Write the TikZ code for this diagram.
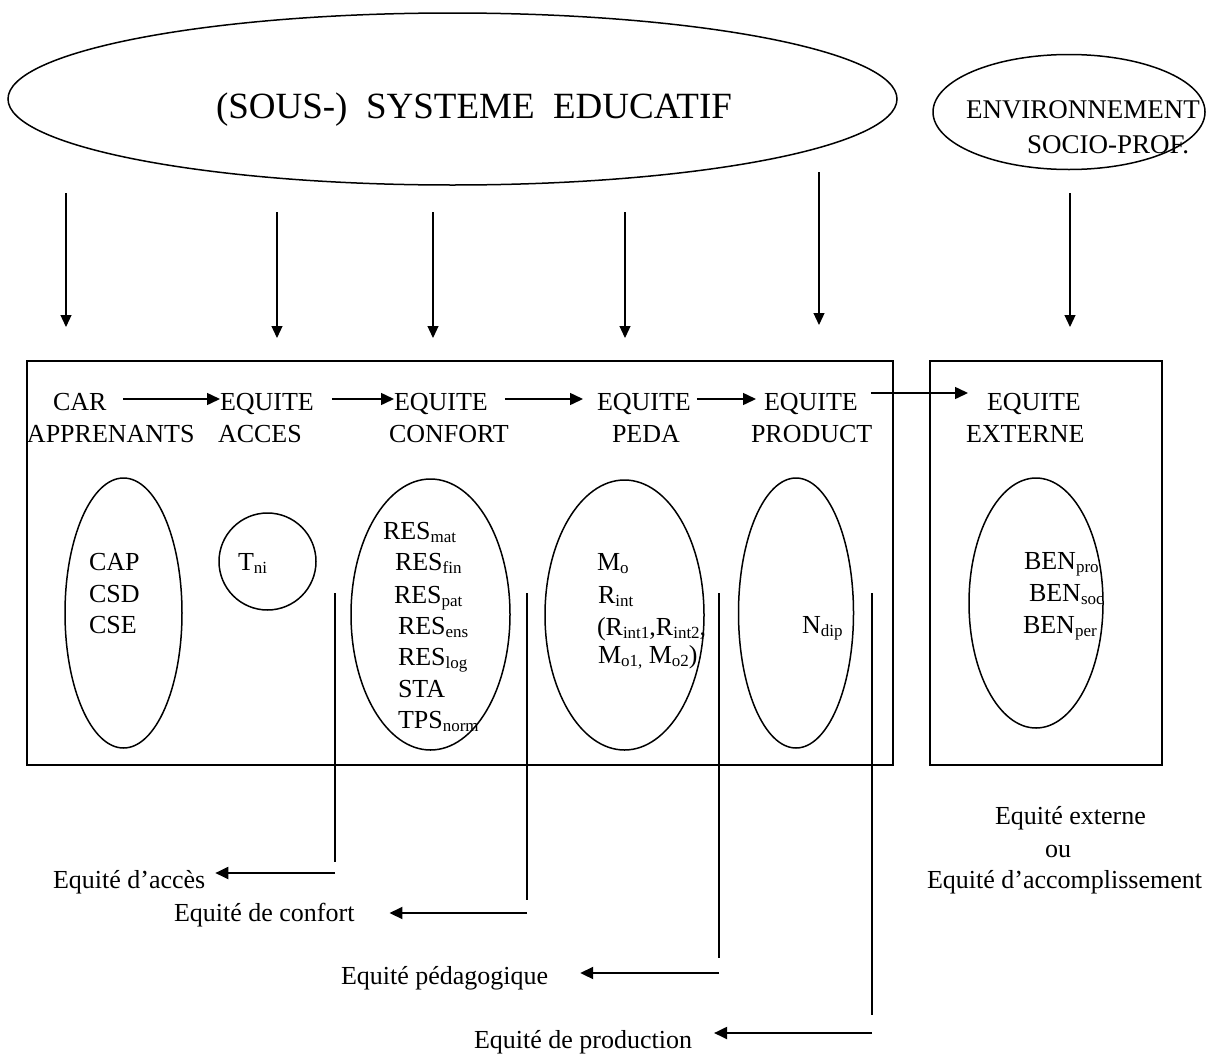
\documentclass[tikz,border=0pt]{standalone}
\usepackage{fontspec}
\setmainfont{Liberation Serif}
\usetikzlibrary{arrows.meta,shapes.geometric}
\newcommand\sbs[1]{\raisebox{-3pt}{\fontsize{17}{17}\selectfont #1}}
\tikzset{
  txt/.style={inner sep=0pt, outer sep=0pt, anchor=base west, font=\fontsize{26}{31}\selectfont},
  rowtxt/.style={txt, text height=22pt, text depth=0pt},
  ell/.style={draw, ellipse, line width=1.5pt, inner sep=0pt, outer sep=0pt},
  frame/.style={draw, rectangle, line width=1.8pt, inner sep=0pt, outer sep=0pt, anchor=north west},
  darr/.style={line width=1.2pt, -{Triangle[length=12pt,width=11pt]}},
  harr/.style={line width=1.5pt, -{Triangle[length=13pt,width=12pt]}},
  barr/.style={line width=2pt, -{Triangle[length=13pt,width=12pt]}},
  vline/.style={line width=2.2pt},
}
\begin{document}
\begin{tikzpicture}[x=1pt,y=-1pt]
\useasboundingbox (0,0) rectangle (1223,1055);

% top ellipses
\node[ell, minimum width=889pt, minimum height=172pt] (sys) at (452.5,99) {};
\node[txt, font=\fontsize{37}{42}\selectfont] (systxt) at (216,118) {(SOUS-)\ \ SYSTEME\ \ EDUCATIF};
\node[ell, minimum width=272pt, minimum height=115pt] (env) at (1069,112) {};
\node[txt, font=\fontsize{27}{32}\selectfont] (envtxt1) at (966,118) {ENVIRONNEMENT};
\node[txt, font=\fontsize{27}{32}\selectfont] (envtxt2) at (1027,153) {SOCIO-PROF.};

% down arrows
\coordinate (d1s) at (66,193);  \coordinate (d1e) at (66,327);
\coordinate (d2s) at (277,212); \coordinate (d2e) at (277,338);
\coordinate (d3s) at (433,212); \coordinate (d3e) at (433,338);
\coordinate (d4s) at (625,212); \coordinate (d4e) at (625,338);
\coordinate (d5s) at (819,172); \coordinate (d5e) at (819,325);
\coordinate (d6s) at (1070,193); \coordinate (d6e) at (1070,327);
\foreach \i in {1,...,6} { \draw[darr] (d\i s) -- (d\i e); }

% boxes
\node[frame, minimum width=866pt, minimum height=404pt] (mainbox) at (27,361) {};
\node[frame, minimum width=232pt, minimum height=404pt] (extbox) at (930,361) {};

% row 1
\node[rowtxt] (car) at (53,410) {CAR};
\node[rowtxt] (eqacc) at (220,410) {EQUITE};
\node[rowtxt] (eqconf) at (394,410) {EQUITE};
\node[rowtxt] (eqped) at (597,410) {EQUITE};
\node[rowtxt] (eqprod) at (764,410) {EQUITE};
\node[rowtxt] (eqext) at (987,410) {EQUITE};
% row 2
\node[txt] (appr) at (27,442) {APPRENANTS};
\node[txt] (acces) at (218,442) {ACCES};
\node[txt] (confort) at (389,442) {CONFORT};
\node[txt] (peda) at (612,442) {PEDA};
\node[txt] (product) at (751,442) {PRODUCT};
\node[txt] (externe) at (966,442) {EXTERNE};

\draw[harr, shorten <=17pt] (car.east) -- (eqacc.west);
\draw[harr, shorten <=18pt] (eqacc.east) -- (eqconf.west);
\draw[harr, shorten <=17pt, shorten >=14pt] (eqconf.east) -- (eqped.west);
\draw[harr, shorten <=6pt, shorten >=8pt] (eqped.east) -- (eqprod.west);
\draw[harr, shorten <=13pt, shorten >=19pt] ([yshift=6pt]eqprod.east) -- ([yshift=6pt]eqext.west);

% inner ellipses
\node[ell, minimum width=117pt, minimum height=270pt] (eCAP) at (123.5,613) {};
\node[ell, minimum width=97pt, minimum height=97pt] (eTni) at (267.5,561.5) {};
\node[ell, minimum width=159pt, minimum height=271pt] (eConf) at (430.5,614.5) {};
\node[ell, minimum width=159pt, minimum height=270pt] (ePed) at (624.5,615) {};
\node[ell, minimum width=115pt, minimum height=270pt] (eProd) at (796,613) {};
\node[ell, minimum width=134pt, minimum height=250pt] (eExt) at (1036,603) {};

% inner texts
\node[txt] (cap) at (89,570) {CAP};
\node[txt] (csd) at (89,602) {CSD};
\node[txt] (cse) at (89,633) {CSE};
\node[txt] (tni) at (238,570) {T\sbs{ni}};
\node[txt] (rmat) at (383,539) {RES\sbs{mat}};
\node[txt] (rfin) at (395,570) {RES\sbs{fin}};
\node[txt] (rpat) at (394,603) {RES\sbs{pat}};
\node[txt] (rens) at (398,634) {RES\sbs{ens}};
\node[txt] (rlog) at (398,665) {RES\sbs{log}};
\node[txt] (sta) at (398,697) {STA};
\node[txt] (tps) at (398,728) {TPS\sbs{norm}};
\node[txt] (mo) at (597,570) {M\sbs{o}};
\node[txt] (rint) at (598,603) {R\sbs{int}};
\node[txt] (rint12) at (597,635) {(R\sbs{int1},R\sbs{int2},};
\node[txt] (mo12) at (598,663) {M\sbs{o1,} M\sbs{o2})};
\node[txt] (ndip) at (802,633) {N\sbs{dip}};
\node[txt] (benpro) at (1024,569) {BEN\sbs{pro}};
\node[txt] (bensoc) at (1029,601) {BEN\sbs{soc}};
\node[txt] (benper) at (1023,633) {BEN\sbs{per}};

% bottom labels
\node[txt] (lacc) at (53,888) {Equité d’accès};
\node[txt] (lconf) at (174,921) {Equité de confort};
\node[txt] (lped) at (341,984) {Equité pédagogique};
\node[txt] (lprod) at (474,1048) {Equité de production};
\node[txt] (lext1) at (995,824) {Equité externe};
\node[txt] (lext2) at (1045,857) {ou};
\node[txt] (lext3) at (927,888) {Equité d’accomplissement};

% bottom lines and arrows
\coordinate (v1t) at (335,593); \coordinate (v1b) at (335,862); \coordinate (h1) at (335,873);
\coordinate (v2t) at (527,593); \coordinate (v2b) at (527,900); \coordinate (h2) at (527,913);
\coordinate (v3t) at (719,593); \coordinate (v3b) at (719,958); \coordinate (h3) at (719,973);
\coordinate (v4t) at (872,593); \coordinate (v4b) at (872,1015); \coordinate (h4) at (872,1033);
\draw[vline] (v1t) -- (v1b);
\draw[vline] (v2t) -- (v2b);
\draw[vline] (v3t) -- (v3b);
\draw[vline] (v4t) -- (v4b);
\draw[barr, shorten >=10pt] (h1) -- (h1 -| lacc.east);
\draw[barr, shorten >=35pt] (h2) -- (h2 -| lconf.east);
\draw[barr, shorten >=32pt] (h3) -- (h3 -| lped.east);
\draw[barr, shorten >=22pt] (h4) -- (h4 -| lprod.east);
\end{tikzpicture}
\end{document}
